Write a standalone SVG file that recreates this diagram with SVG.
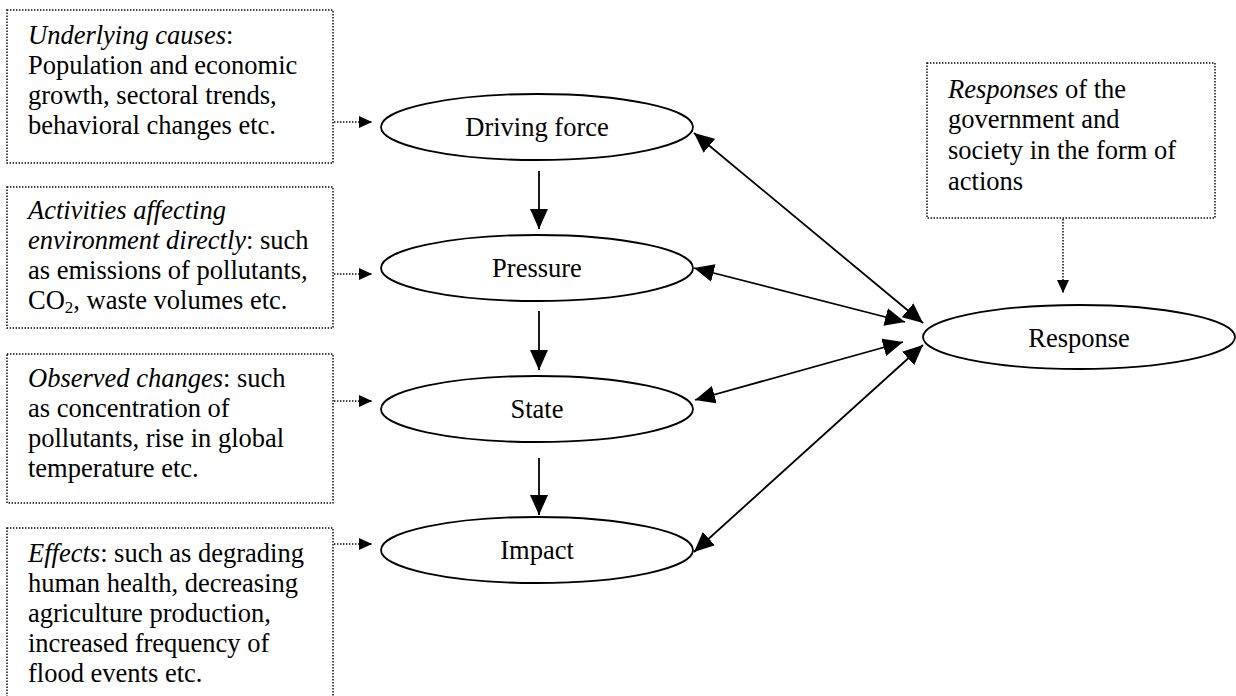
<svg xmlns="http://www.w3.org/2000/svg" width="1236" height="696" viewBox="0 0 1236 696">
  <style>
    text { font-family: 'Liberation Serif', 'DejaVu Serif', serif; font-size: 26.5px; fill: #000; }
    .it { font-style: italic; }
    .mid { text-anchor: middle; }
    .note { fill: #fff; stroke: #000; stroke-width: 1.4; stroke-dasharray: 1.4 1.6; }
    .node { fill: #fff; stroke: #000; stroke-width: 1.8; }
    .link { stroke: #000; stroke-width: 1.8; fill: none; }
    .dot { stroke: #000; stroke-width: 1.4; stroke-dasharray: 1.4 1.6; fill: none; }
  </style>
  <defs>
    <marker id="head" viewBox="0 0 20 18" refX="20" refY="9" markerWidth="20" markerHeight="18" markerUnits="userSpaceOnUse" orient="auto-start-reverse">
      <path d="M0,0 L20,9 L0,18 Z" fill="#000"/>
    </marker>
    <marker id="small" viewBox="0 0 13 12" refX="13" refY="6" markerWidth="13" markerHeight="12" markerUnits="userSpaceOnUse" orient="auto">
      <path d="M0,0 L13,6 L0,12 Z" fill="#000"/>
    </marker>
  </defs>

  <rect width="1236" height="696" fill="#fff"/>

  <!-- explanatory notes -->
  <g id="note-causes">
    <rect class="note" x="7" y="10" width="326" height="153"/>
    <text x="28" y="44"><tspan class="it">Underlying causes</tspan>:</text>
    <text x="28" y="74">Population and economic</text>
    <text x="28" y="104">growth, sectoral trends,</text>
    <text x="28" y="134">behavioral changes etc.</text>
  </g>
  <g id="note-activities">
    <rect class="note" x="7" y="187" width="326" height="141"/>
    <text x="28" y="219" class="it">Activities affecting</text>
    <text x="28" y="249"><tspan class="it">environment directly</tspan>: such</text>
    <text x="28" y="279">as emissions of pollutants,</text>
    <text x="28" y="309">CO<tspan font-size="17" dy="4">2</tspan><tspan dy="-4">, waste volumes etc.</tspan></text>
  </g>
  <g id="note-changes">
    <rect class="note" x="7" y="354" width="326" height="149"/>
    <text x="28" y="387"><tspan class="it">Observed changes</tspan>: such</text>
    <text x="28" y="417">as concentration of</text>
    <text x="28" y="447">pollutants, rise in global</text>
    <text x="28" y="477">temperature etc.</text>
  </g>
  <g id="note-effects">
    <rect class="note" x="7" y="528" width="326" height="180"/>
    <text x="28" y="562"><tspan class="it">Effects</tspan>: such as degrading</text>
    <text x="28" y="592">human health, decreasing</text>
    <text x="28" y="622">agriculture production,</text>
    <text x="28" y="652">increased frequency of</text>
    <text x="28" y="682">flood events etc.</text>
  </g>
  <g id="note-responses">
    <rect class="note" x="927" y="63" width="288" height="155"/>
    <text x="948" y="98"><tspan class="it">Responses</tspan> of the</text>
    <text x="948" y="128">government and</text>
    <text x="948" y="159">society in the form of</text>
    <text x="948" y="190">actions</text>
  </g>

  <!-- DPSIR nodes -->
  <g id="driving-force">
    <ellipse class="node" cx="537" cy="127" rx="156" ry="33"/>
    <text class="mid" x="537" y="136">Driving force</text>
  </g>
  <g id="pressure">
    <ellipse class="node" cx="537" cy="268" rx="156" ry="33"/>
    <text class="mid" x="537" y="277">Pressure</text>
  </g>
  <g id="state">
    <ellipse class="node" cx="537" cy="409" rx="156" ry="33"/>
    <text class="mid" x="537" y="418">State</text>
  </g>
  <g id="impact">
    <ellipse class="node" cx="537" cy="550" rx="156" ry="33"/>
    <text class="mid" x="537" y="559">Impact</text>
  </g>
  <g id="response">
    <ellipse class="node" cx="1079" cy="337" rx="156" ry="32"/>
    <text class="mid" x="1079" y="347">Response</text>
  </g>

  <!-- connectors -->
  <g id="connectors">
    <!-- notes to nodes -->
    <line class="dot" x1="334" y1="122" x2="372" y2="122" marker-end="url(#small)"/>
    <line class="dot" x1="334" y1="274" x2="372" y2="274" marker-end="url(#small)"/>
    <line class="dot" x1="334" y1="401" x2="372" y2="401" marker-end="url(#small)"/>
    <line class="dot" x1="334" y1="544" x2="372" y2="544" marker-end="url(#small)"/>
    <line class="dot" x1="1063" y1="219" x2="1063" y2="293" marker-end="url(#small)"/>

    <!-- causal chain -->
    <line class="link" x1="539" y1="171" x2="539" y2="229" marker-end="url(#head)"/>
    <line class="link" x1="539" y1="311" x2="539" y2="370" marker-end="url(#head)"/>
    <line class="link" x1="539" y1="458" x2="539" y2="515" marker-end="url(#head)"/>

    <!-- two-way links with Response -->
    <line class="link" x1="694" y1="133" x2="923" y2="323" marker-start="url(#head)" marker-end="url(#head)"/>
    <line class="link" x1="694" y1="268" x2="905" y2="322" marker-start="url(#head)" marker-end="url(#head)"/>
    <line class="link" x1="695" y1="400" x2="903" y2="342" marker-start="url(#head)" marker-end="url(#head)"/>
    <line class="link" x1="694" y1="552" x2="923" y2="345" marker-start="url(#head)" marker-end="url(#head)"/>
  </g>
</svg>
